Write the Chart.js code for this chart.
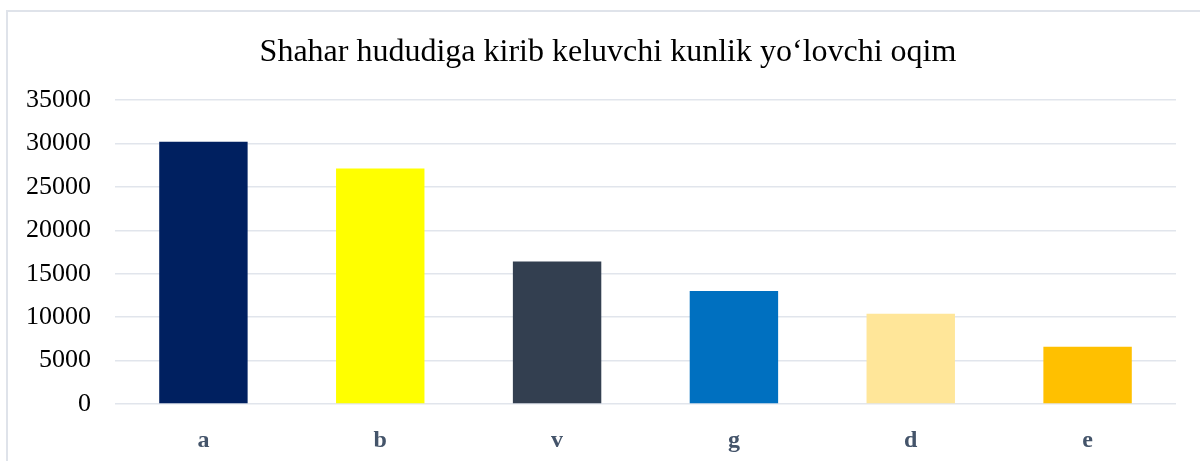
<!DOCTYPE html>
<html>
<head>
<meta charset="utf-8">
<script src="https://cdn.jsdelivr.net/npm/chart.js@4.4.1/dist/chart.umd.min.js"></script>
<style>
  html, body { margin: 0; padding: 0; background: #fff; overflow: hidden; }
  body { width: 1200px; height: 461px; position: relative; }
  #frame {
    position: absolute; left: 6px; top: 10px; width: 1210px; height: 470px;
    border-left: 2px solid #dfe3ea; border-top: 2px solid #dfe3ea;
  }
  #wrap { position: absolute; left: 8px; top: 12px; width: 1200px; height: 449px; }
</style>
</head>
<body>
<div id="frame"></div>
<div id="wrap"><canvas id="chart"></canvas></div>
<script>
const titleText = 'Shahar hududiga kirib keluvchi kunlik yo\u2018lovchi oqim';
const categories = ['a', 'b', 'v', 'g', 'd', 'e'];
const passengers = [30200, 27100, 16400, 13000, 10400, 6600];
const barColors = ['#002060', '#ffff00', '#333f50', '#0070c0', '#ffe699', '#ffc000'];
const yTicks = [0, 5000, 10000, 15000, 20000, 25000, 30000, 35000];

const serif = "'Liberation Serif', 'Times New Roman', serif";

new Chart(document.getElementById('chart'), {
  type: 'bar',
  data: {
    labels: categories,
    datasets: [{
      data: passengers,
      backgroundColor: barColors,
      borderWidth: 0,
      categoryPercentage: 1,
      barPercentage: 0.5
    }]
  },
  options: {
    responsive: true,
    maintainAspectRatio: false,
    animation: false,
    layout: { padding: 0 },
    plugins: {
      legend: { display: false },
      tooltip: { enabled: false },
      title: {
        display: true,
        text: titleText,
        color: '#000',
        font: { family: serif, size: 32, weight: 'normal' },
        padding: { top: 21, bottom: 28.6 }
      }
    },
    scales: {
      x: {
        grid: { display: false, drawTicks: false },
        border: { display: false },
        ticks: {
          color: '#44546a',
          padding: 22,
          font: { family: serif, size: 24, weight: 'bold' }
        },
        afterFit: (axis) => { axis.height = 57; }
      },
      y: {
        min: 0,
        max: 35000,
        afterBuildTicks: (axis) => { axis.ticks = yTicks.map(v => ({ value: v })); },
        grid: { color: '#e1e5ec', lineWidth: 1.5, drawTicks: false },
        border: { display: false },
        ticks: {
          color: '#000',
          padding: 24,
          font: { family: serif, size: 26 },
          callback: (v) => String(v)
        },
        afterFit: (axis) => { axis.width = 107; }
      },
      // empty right-hand spacer so the plot ends short of the frame edge
      // while the title stays centred on the full width
      spacer: {
        position: 'right',
        grid: { display: false, drawTicks: false },
        border: { display: false },
        ticks: { display: false },
        afterFit: (axis) => { axis.width = 32; }
      }
    }
  }
});
</script>
</body>
</html>
